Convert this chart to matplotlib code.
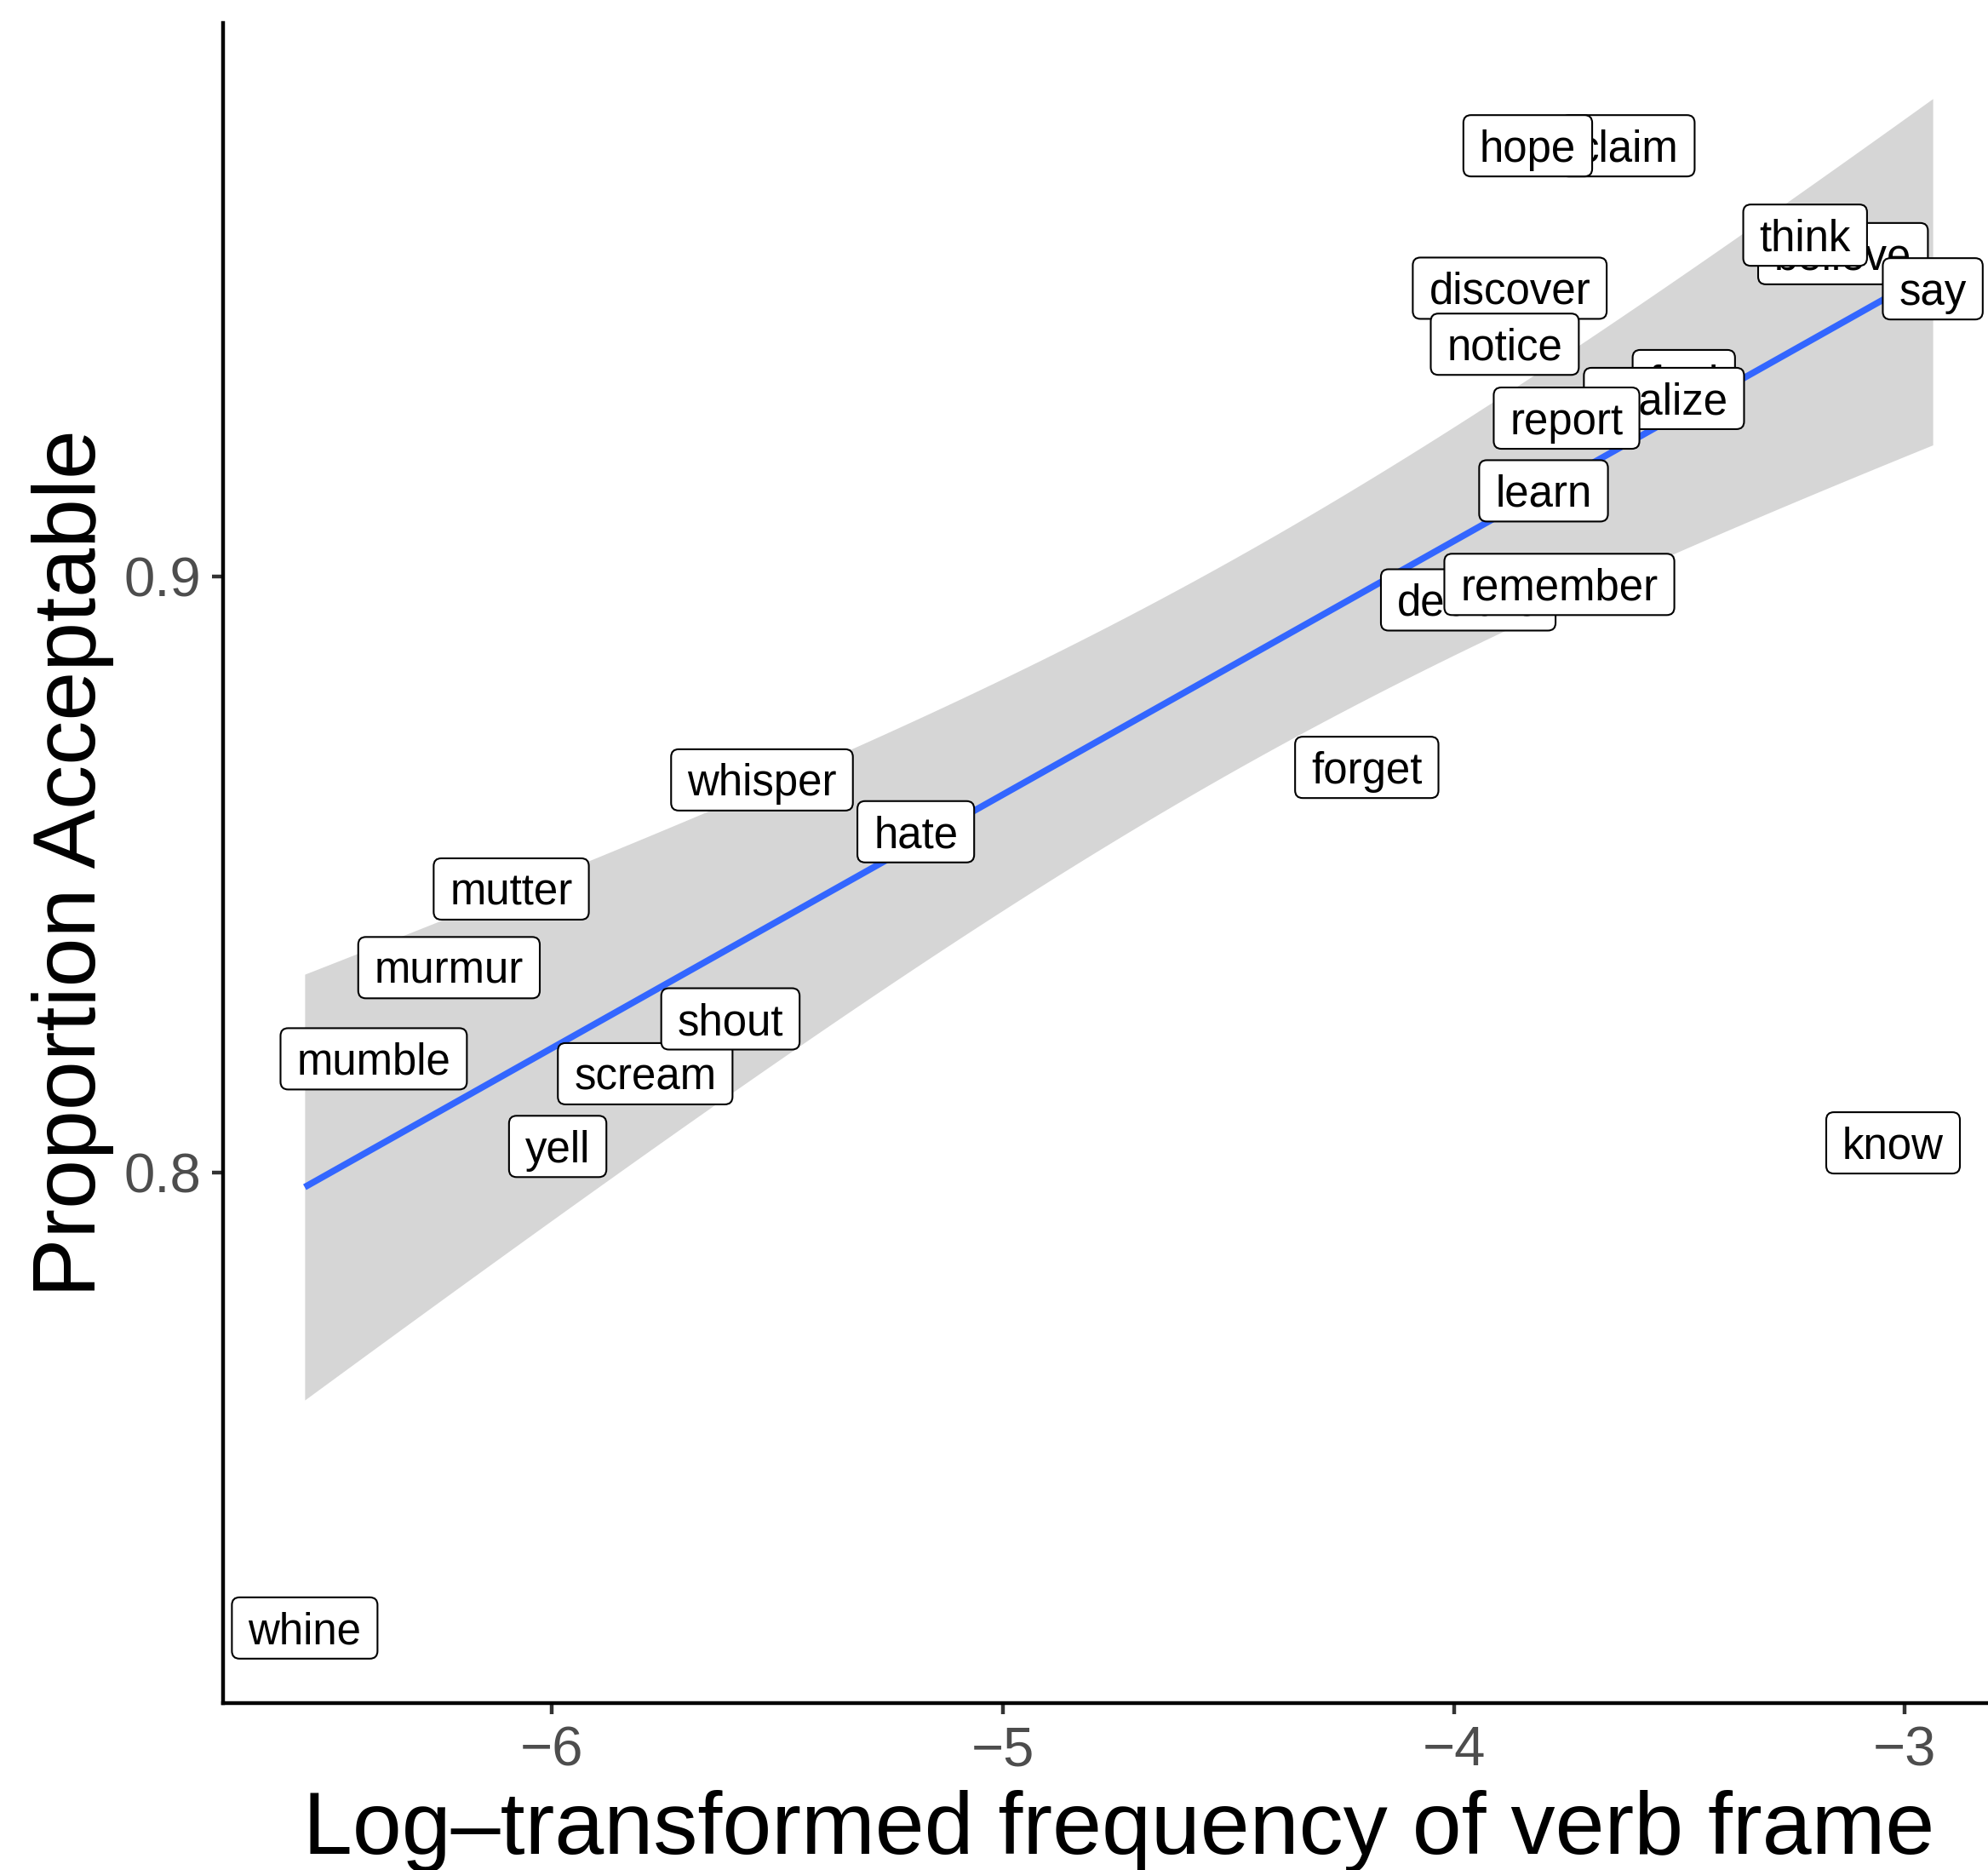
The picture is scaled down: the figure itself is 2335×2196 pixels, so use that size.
import numpy as np
import matplotlib.pyplot as plt
from matplotlib.patches import FancyBboxPatch
from matplotlib.transforms import IdentityTransform

plt.rcParams['font.family'] = ['Liberation Sans', 'DejaVu Sans']

# verbs (alphabetical, later ones drawn on top)
verbs = ['believe', 'claim', 'declare', 'discover', 'feel', 'forget', 'hate', 'hope',
         'know', 'learn', 'mumble', 'murmur', 'mutter', 'notice', 'realize', 'remember',
         'report', 'say', 'scream', 'shout', 'think', 'whine', 'whisper', 'yell']
log_freq = [-3.137, -3.614, -3.968, -3.876, -3.490, -4.193, -5.193, -3.836,
            -3.026, -3.801, -6.395, -6.228, -6.090, -3.887, -3.534, -3.766,
            -3.750, -2.938, -5.793, -5.604, -3.221, -6.548, -5.534, -5.987]
prop_ok = [0.9542, 0.9723, 0.8961, 0.9484, 0.9329, 0.8680, 0.8572, 0.9723,
           0.8050, 0.9144, 0.8191, 0.8344, 0.8476, 0.9390, 0.9299, 0.8987,
           0.9266, 0.9483, 0.8166, 0.8258, 0.9573, 0.7236, 0.8659, 0.8044]

x = np.array(log_freq)
y = np.array(prop_ok)

# linear fit with 95% confidence band
n = len(x)
b, a = np.polyfit(x, y, 1)
resid = y - (a + b * x)
s = np.sqrt(np.sum(resid**2) / (n - 2))
sxx = np.sum((x - x.mean())**2)
t_crit = 2.0739  # t(0.975, df=22)
xs = np.linspace(x.min(), x.max(), 100)
fit = a + b * xs
se = s * np.sqrt(1.0 / n + (xs - x.mean())**2 / sxx)

W, H = 2335, 2196
fig = plt.figure(figsize=(W / 100, H / 100), dpi=100)
ax = fig.add_axes([262 / W, 196 / H, (2366 - 262) / W, (2000 - 27) / H])

ax.fill_between(xs, fit - t_crit * se, fit + t_crit * se, color='#D6D6D6', lw=0, zorder=1)
ax.plot(xs, fit, color='#3366FF', lw=5.5, zorder=2, solid_capstyle='butt')

ax.set_xlim(-6.729, -2.757)
ax.set_ylim(0.711, 0.9929)
ax.set_xticks([-6, -5, -4, -3])
ax.set_yticks([0.8, 0.9])
ax.set_yticklabels(['0.8', '0.9'])

for side in ['top', 'right']:
    ax.spines[side].set_visible(False)
for side in ['left', 'bottom']:
    ax.spines[side].set_linewidth(3.2)
    ax.spines[side].set_color('black')
ax.tick_params(length=9.4, width=3.2, color='#333333', labelsize=47,
               labelcolor='#4D4D4D', pad=9.4)

fig.text(1314 / W, (H - 2177) / H, 'Log\u2013transformed frequency of verb frame',
         ha='center', va='baseline', fontsize=75)
fig.text(112 / W, (H - 1014) / H, 'Proportion Acceptable', rotation=90,
         rotation_mode='anchor', ha='center', va='baseline', fontsize=75)

# text labels with rounded white boxes
fig.canvas.draw()
renderer = fig.canvas.get_renderer()
for i, (v, xv, yv) in enumerate(zip(verbs, log_freq, prop_ok)):
    px, py = ax.transData.transform((xv, yv))
    t = fig.text(px, py - 18.5, v, transform=IdentityTransform(), ha='center',
                 va='baseline', fontsize=36.7, zorder=11 + 2 * i)
    w = t.get_window_extent(renderer).width
    box = FancyBboxPatch((px - w / 2 - 19, py - 36), w + 38, 72,
                         boxstyle='round,pad=0,rounding_size=9',
                         transform=IdentityTransform(), fc='white', ec='black',
                         lw=1.5, zorder=10 + 2 * i)
    fig.add_artist(box)

fig.savefig('out.png', dpi=100, facecolor='white')
